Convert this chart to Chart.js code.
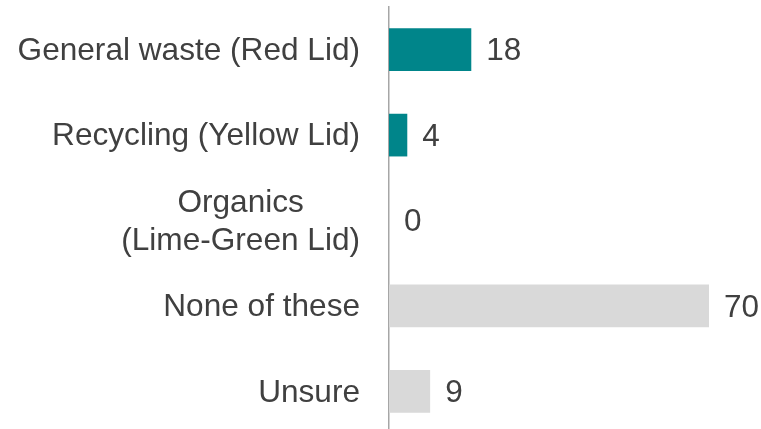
<!DOCTYPE html>
<html>
<head>
<meta charset="utf-8">
<script src="https://cdn.jsdelivr.net/npm/chart.js@4/dist/chart.umd.min.js"></script>
<style>
  html, body { margin: 0; padding: 0; background: #fff; overflow: hidden; }
  #wrap { width: 761px; height: 434px; position: relative; }
</style>
</head>
<body>
<div id="wrap"><canvas id="c"></canvas></div>
<script>
const categories = [
  'General waste (Red Lid)',
  'Recycling (Yellow Lid)',
  ['Organics', '(Lime-Green Lid)'],
  'None of these',
  'Unsure'
];
const values = [18, 4, 0, 70, 9];
const barColors = ['#00858A', '#00858A', '#00858A', '#D9D9D9', '#D9D9D9'];

const FONT = '"Liberation Sans", Arial, Helvetica, sans-serif';
const TEXT = '#404040';
const LABEL_SIZE = 31.6;
const VALUE_SIZE = 31.5;

const yLabelsPlugin = {
  id: 'yLabels',
  afterDraw(chart) {
    const ctx = chart.ctx;
    const y = chart.scales.y;
    const right = chart.chartArea.left - 29;
    ctx.save();
    ctx.font = LABEL_SIZE + 'px ' + FONT;
    ctx.fillStyle = TEXT;
    ctx.textBaseline = 'middle';
    const lh = 38;
    categories.forEach((lab, i) => {
      const cy = y.getPixelForTick(i) + 1.5;
      const lines = Array.isArray(lab) ? lab : [lab];
      const widths = lines.map(l => ctx.measureText(l).width);
      const maxW = Math.max(...widths);
      const cx = right - maxW / 2;
      lines.forEach((l, j) => {
        const ly = cy + (j - (lines.length - 1) / 2) * lh;
        if (lines.length > 1) {
          ctx.textAlign = 'center';
          ctx.fillText(l, cx, ly);
        } else {
          ctx.textAlign = 'right';
          ctx.fillText(l, right, ly);
        }
      });
    });
    ctx.restore();
  }
};

const valueLabelsPlugin = {
  id: 'valueLabels',
  afterDatasetsDraw(chart) {
    const ctx = chart.ctx;
    const meta = chart.getDatasetMeta(0);
    ctx.save();
    ctx.font = VALUE_SIZE + 'px ' + FONT;
    ctx.fillStyle = TEXT;
    ctx.textAlign = 'left';
    ctx.textBaseline = 'middle';
    meta.data.forEach((bar, i) => {
      ctx.fillText(String(values[i]), bar.x + 15, bar.y + 2);
    });
    ctx.restore();
  }
};

new Chart(document.getElementById('c'), {
  type: 'bar',
  data: {
    labels: categories,
    datasets: [{
      data: values,
      backgroundColor: barColors,
      borderWidth: 0,
      barPercentage: 0.5,
      categoryPercentage: 1.0
    }]
  },
  options: {
    indexAxis: 'y',
    responsive: true,
    maintainAspectRatio: false,
    animation: false,
    events: [],
    layout: { padding: { top: 7, right: 52, bottom: 0, left: 0 } },
    plugins: { legend: { display: false }, tooltip: { enabled: false } },
    scales: {
      x: { display: false, min: 0, max: 70 },
      y: {
        grid: { display: false, drawTicks: false },
        border: { display: true, color: '#A6A6A6', width: 1.5 },
        ticks: { display: false },
        afterFit(scale) { scale.width = 389; }
      }
    }
  },
  plugins: [yLabelsPlugin, valueLabelsPlugin]
});
</script>
</body>
</html>
